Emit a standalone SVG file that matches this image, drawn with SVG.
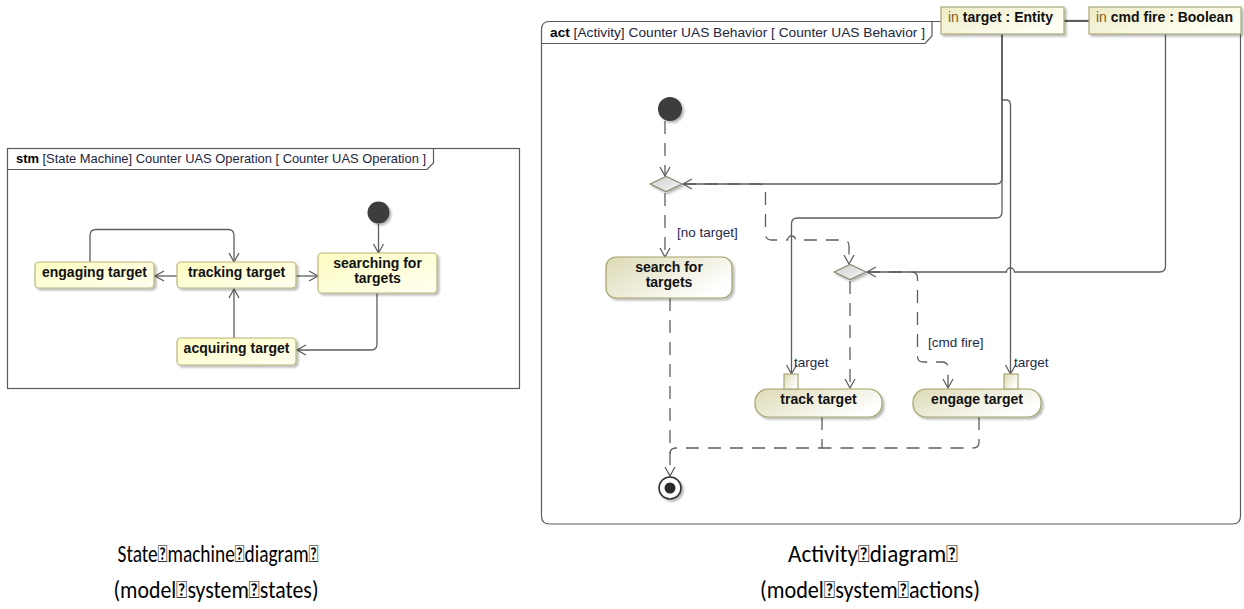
<svg xmlns="http://www.w3.org/2000/svg" width="1244" height="609" viewBox="0 0 1244 609">
<style>
.frame{fill:none;stroke:#5a5a5a;stroke-width:1.2}
.hdr{font-family:"Liberation Sans",Arial,sans-serif;font-size:13px;fill:#1e2540}
.hdrb{font-weight:bold;fill:#000}
.st{fill:url(#gSm);stroke:#b8b67a;stroke-width:1.2;filter:url(#sh)}
.act{fill:url(#gAct);stroke:#a3a16a;stroke-width:1.2;filter:url(#sh)}
.par{fill:url(#gPar);stroke:#a9a77a;stroke-width:1.2;filter:url(#sh)}
.pin{fill:url(#gAct);stroke:#a3a16a;stroke-width:1.1}
.dia{fill:url(#gDia);stroke:#8b8b70;stroke-width:1.2;filter:url(#sh)}
.init{fill:#3c3c3c;filter:url(#sh)}
.lbl{font-family:"Liberation Sans",Arial,sans-serif;font-size:14px;font-weight:bold;fill:#111;text-anchor:middle}
.small{font-family:"Liberation Sans",Arial,sans-serif;font-size:13.5px;fill:#1e2a4a}
.kw{fill:#8a5a14;font-weight:normal}
.ln{fill:none;stroke:#5e5e5e;stroke-width:1.3;marker-end:url(#arr)}
.lnn{fill:none;stroke:#5e5e5e;stroke-width:1.3}
.dash{fill:none;stroke:#5e5e5e;stroke-width:1.3;stroke-dasharray:13 9;marker-end:url(#arr)}
.dashn{fill:none;stroke:#5e5e5e;stroke-width:1.3;stroke-dasharray:13 9}
.cap{font-family:"Carlito","Liberation Sans Narrow","Open Sans",sans-serif;font-size:25px;fill:#000;text-anchor:middle}
</style>
<defs>
<linearGradient id="gSm" x1="0" y1="0" x2="1" y2="1"><stop offset="0" stop-color="#fcfcc0"/><stop offset="1" stop-color="#fffff2"/></linearGradient>
<linearGradient id="gAct" x1="0" y1="0" x2="1" y2="0.6"><stop offset="0" stop-color="#dcdab4"/><stop offset="1" stop-color="#ffffff"/></linearGradient>
<linearGradient id="gPar" x1="0" y1="0" x2="1" y2="0.6"><stop offset="0" stop-color="#eeecc6"/><stop offset="1" stop-color="#fffff4"/></linearGradient>
<linearGradient id="gDia" x1="0" y1="0" x2="1" y2="1"><stop offset="0" stop-color="#cfcfcf"/><stop offset="1" stop-color="#f6f6f6"/></linearGradient>
<filter id="sh" x="-20%" y="-20%" width="150%" height="160%"><feDropShadow dx="2" dy="2" stdDeviation="1" flood-color="#000" flood-opacity="0.28"/></filter>
<marker id="arr" markerUnits="userSpaceOnUse" markerWidth="12" markerHeight="12" refX="9" refY="5" orient="auto" overflow="visible"><path d="M0,0 L9,5 L0,10" fill="none" stroke="#5e5e5e" stroke-width="1.3"/></marker>
</defs>

<!-- State machine frame -->
<g id="stm-frame">
<rect class="frame" x="7.5" y="148.5" width="512" height="240"/>
<path class="frame" d="M7.5,169.5 H427 L433.5,163 V148.5"/>
<text class="hdr" x="16" y="163" textLength="410" lengthAdjust="spacingAndGlyphs"><tspan class="hdrb">stm</tspan> [State Machine] Counter UAS Operation [ Counter UAS Operation ]</text>
</g>

<g id="sm-connectors">
<path class="ln" d="M378.5,224 V253"/>
<path class="ln" d="M296,276 H318"/>
<path class="ln" d="M177,276 H155"/>
<path class="ln" d="M90,262 V235.5 Q90,229.5 96,229.5 H228 Q234,229.5 234,235.5 V262"/>
<path class="ln" d="M234,338 V289"/>
<path class="ln" d="M377,293 V344 Q377,350 371,350 H297"/>
</g>

<g id="sm-initial"><circle class="init" cx="378.5" cy="212.5" r="11"/></g>
<g id="sm-engaging"><rect class="st" x="35" y="262" width="119" height="26" rx="4"/><text class="lbl" x="94.5" y="277">engaging target</text></g>
<g id="sm-tracking"><rect class="st" x="177" y="262" width="119" height="26" rx="4"/><text class="lbl" x="236.5" y="277">tracking target</text></g>
<g id="sm-searching"><rect class="st" x="318" y="253" width="119" height="40" rx="4"/><text class="lbl" x="377.5" y="268">searching for</text><text class="lbl" x="377.5" y="283">targets</text></g>
<g id="sm-acquiring"><rect class="st" x="177" y="338" width="119" height="27" rx="4"/><text class="lbl" x="236.5" y="353">acquiring target</text></g>

<!-- Activity frame -->
<g id="act-frame">
<path class="frame" d="M541.5,29.5 Q541.5,21.5 549.5,21.5 H1240.5 V516 Q1240.5,524 1232.5,524 H549.5 Q541.5,524 541.5,516 Z"/>
<path class="frame" d="M541.5,43.5 H925 L932,36 V21.5"/>
<text class="hdr" x="550" y="37" textLength="375" lengthAdjust="spacingAndGlyphs"><tspan class="hdrb">act</tspan> [Activity] Counter UAS Behavior [ Counter UAS Behavior ]</text>
</g>

<g id="act-connectors">
<path class="lnn" d="M1064,20.5 H1089"/>
<path class="ln" d="M1002,34 V178 Q1002,184 996,184 H683"/>
<path class="ln" d="M1002,34 V212 Q1002,218 996,218 H797.5 Q791.5,218 791.5,224 V374"/>
<path class="ln" d="M1002,34 V100 H1006 Q1010.5,100 1010.5,105 V374"/>
<path class="ln" d="M1165.5,34 V266 Q1165.5,272 1159.5,272 H1014.5 A4,4 0 0 0 1006.5,272 H867"/>
<path class="dash" d="M665,121 V176"/>
<path class="dash" d="M665,193 V257"/>
<path class="dash" d="M683,184 H759 Q765.5,184 765.5,190 V234 Q765.5,240 771.5,240 H787.5 A4,4 0 0 1 795.5,240 H843 Q849,240 849,246 V264"/>
<path class="dash" d="M850,281 V388"/>
<path class="dash" d="M867,272 H911 Q917.5,272 917.5,278 V356 Q917.5,362 923.5,362 H942 Q948,362 948,368 V388"/>
<path class="dash" d="M670,298 V476"/>
<path class="dashn" d="M822,417 V448 H676 Q670,448 670,454"/>
<path class="dashn" d="M979,417 V442 Q979,448 973,448 H822"/>
</g>

<g id="act-initial"><circle class="init" cx="670" cy="109" r="12"/></g>
<g id="act-decision1"><path class="dia" d="M650,184 L666,176.5 L682,184 L666,191.5 Z"/></g>
<g id="act-decision2"><path class="dia" d="M834,272 L850,264.5 L866,272 L850,279.5 Z"/></g>
<g id="act-final"><circle cx="670" cy="488" r="11" fill="#fff" stroke="#333" stroke-width="1.6" filter="url(#sh)"/><circle cx="670" cy="488" r="5.5" fill="#2a2a2a"/></g>

<g id="act-search"><rect class="act" x="606" y="257" width="126" height="41" rx="10"/><text class="lbl" x="669" y="272">search for</text><text class="lbl" x="669" y="287">targets</text></g>
<g id="act-track"><rect class="act" x="755" y="389" width="127" height="28" rx="13"/><rect class="pin" x="784" y="374" width="14" height="15"/><text class="lbl" x="818.5" y="404">track target</text><text class="small" x="794" y="367">target</text></g>
<g id="act-engage"><rect class="act" x="913" y="389" width="128" height="28" rx="13"/><rect class="pin" x="1004" y="374" width="14" height="15"/><text class="lbl" x="977" y="404">engage target</text><text class="small" x="1014" y="367">target</text></g>

<g id="labels">
<text class="small" x="677" y="237">[no target]</text>
<text class="small" x="928" y="347">[cmd fire]</text>
</g>

<g id="param-target"><rect class="par" x="941" y="7" width="123" height="27"/><text class="lbl" x="948" y="22" style="text-anchor:start"><tspan class="kw">in</tspan> target : Entity</text></g>
<g id="param-cmdfire"><rect class="par" x="1089" y="7" width="152" height="27"/><text class="lbl" x="1096" y="22" style="text-anchor:start"><tspan class="kw">in</tspan> cmd fire : Boolean</text></g>

<g id="captions">
<text class="cap" x="218" y="562" textLength="201" lengthAdjust="spacingAndGlyphs">State&#xF020;machine&#xF020;diagram&#xF020;</text>
<text class="cap" x="216" y="598" textLength="205" lengthAdjust="spacingAndGlyphs">(model&#xF020;system&#xF020;states)</text>
<text class="cap" x="873" y="562" textLength="170" lengthAdjust="spacingAndGlyphs">Activity&#xF020;diagram&#xF020;</text>
<text class="cap" x="870" y="598" textLength="220" lengthAdjust="spacingAndGlyphs">(model&#xF020;system&#xF020;actions)</text>
</g>
</svg>
